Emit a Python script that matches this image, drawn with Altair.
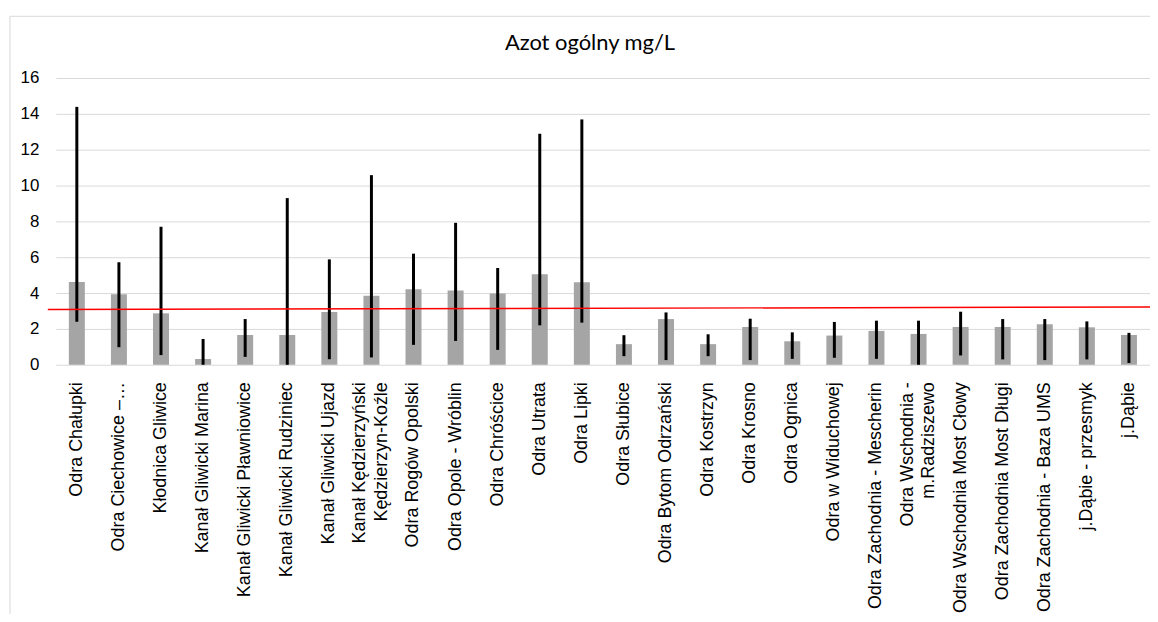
import altair as alt
import pandas as pd

stations = [
    "Odra Chałupki",
    "Odra Ciechowice –…",
    "Kłodnica Gliwice",
    "Kanał Gliwicki Marina",
    "Kanał Gliwicki Pławniowice",
    "Kanał Gliwicki Rudziniec",
    "Kanał Gliwicki Ujazd",
    "Kanał Kędzierzyński\nKędzierzyn-Koźle",
    "Odra Rogów Opolski",
    "Odra Opole - Wróblin",
    "Odra Chróścice",
    "Odra Utrata",
    "Odra Lipki",
    "Odra Słubice",
    "Odra Bytom Odrzański",
    "Odra Kostrzyn",
    "Odra Krosno",
    "Odra Ognica",
    "Odra w Widuchowej",
    "Odra Zachodnia - Mescherin",
    "Odra Wschodnia -\nm.Radziszewo",
    "Odra Wschodnia Most Cłowy",
    "Odra Zachodnia Most Długi",
    "Odra Zachodnia  - Baza UMS",
    "j.Dąbie - przesmyk",
    "j.Dąbie",
]
means = [4.62, 3.94, 2.87, 0.32, 1.66, 1.66, 2.94, 3.85, 4.22, 4.14, 3.98, 5.05, 4.61,
         1.15, 2.55, 1.15, 2.11, 1.31, 1.63, 1.89, 1.72, 2.11, 2.11, 2.26, 2.09, 1.66]
mins = [2.40, 0.98, 0.54, 0.00, 0.44, 0.00, 0.31, 0.41, 1.11, 1.33, 0.83, 2.20, 2.35,
        0.48, 0.26, 0.48, 0.26, 0.33, 0.39, 0.33, 0.00, 0.52, 0.30, 0.26, 0.30, 0.10]
maxs = [14.39, 5.72, 7.70, 1.44, 2.55, 9.30, 5.88, 10.58, 6.20, 7.92, 5.40, 12.89, 13.69,
        1.65, 2.92, 1.70, 2.57, 1.81, 2.39, 2.46, 2.46, 2.96, 2.55, 2.55, 2.42, 1.78]
limit_start = [3.09]
limit_end = [3.22]
y_ticks = [0, 2, 4, 6, 8, 10, 12, 14, 16]
title_text = ["Azot ogólny mg/L"]

W, H = 1099, 288
PAD_BOTTOM = 249

df = pd.DataFrame({"station": stations, "mean": means, "lo": mins, "hi": maxs})
lim = pd.DataFrame({"a": limit_start, "b": limit_end})
one_df = pd.DataFrame({"t": title_text})

xaxis = alt.Axis(
    title=None, labelAngle=-90, labelFont="Liberation Sans", labelFontSize=18,
    labelColor="#000000", labelPadding=17, ticks=False, domain=False, grid=False,
    labelLimit=400, labelLineHeight=22, labelOverlap=False,
    labelExpr="split(datum.label, '\\n')",
    labelOffset={"condition": {"test": "indexof(datum.value, '\\n') >= 0", "value": -11},
                 "value": 0},
)
yaxis = alt.Axis(
    title=None, values=y_ticks, grid=True, gridColor="#d9d9d9", gridWidth=1,
    domain=False, ticks=False, labelFont="Liberation Sans", labelFontSize=17,
    labelColor="#000000", labelPadding=17, labelOverlap=False,
)
xscale = alt.Scale(paddingInner=0.62, paddingOuter=0.31)
yscale = alt.Scale(domain=[0, 16], nice=False)

bars = alt.Chart(df).mark_bar(color="#a5a5a5").encode(
    x=alt.X("station:N", sort=None, scale=xscale, axis=xaxis),
    y=alt.Y("mean:Q", scale=yscale, axis=yaxis),
)

errs = alt.Chart(df).mark_rule(color="#000000", strokeWidth=3).encode(
    x=alt.X("station:N", sort=None, scale=xscale, axis=xaxis),
    y=alt.Y("lo:Q", scale=yscale, axis=yaxis),
    y2="hi:Q",
)

redline = alt.Chart(lim).mark_rule(color="#ff0000", strokeWidth=1.5).encode(
    x=alt.value(-8),
    x2=alt.value(W + 3),
    y=alt.Y("a:Q", scale=yscale, axis=yaxis),
    y2="b:Q",
)

frame = alt.Chart(one_df).mark_rect(fill=None, stroke="#d9d9d9", strokeWidth=1).encode(
    x=alt.value(-46),
    x2=alt.value(W + 40),
    y=alt.value(-62),
    y2=alt.value(H + PAD_BOTTOM + 40),
)

title = alt.Chart(one_df).mark_text(
    font="Lato", fontSize=22, color="#000000", align="center", baseline="alphabetic"
).encode(
    text="t:N",
    x=alt.value(W / 2 - 13),
    y=alt.value(-28),
)

chart = alt.layer(frame, bars, errs, redline, title).properties(
    width=W,
    height=H,
    autosize=alt.AutoSizeParams(type="none"),
    padding={"left": 48, "top": 69, "right": 0, "bottom": PAD_BOTTOM},
).configure_view(stroke=None)

chart.save("out.html", embed_options={"renderer": "svg", "actions": False})
